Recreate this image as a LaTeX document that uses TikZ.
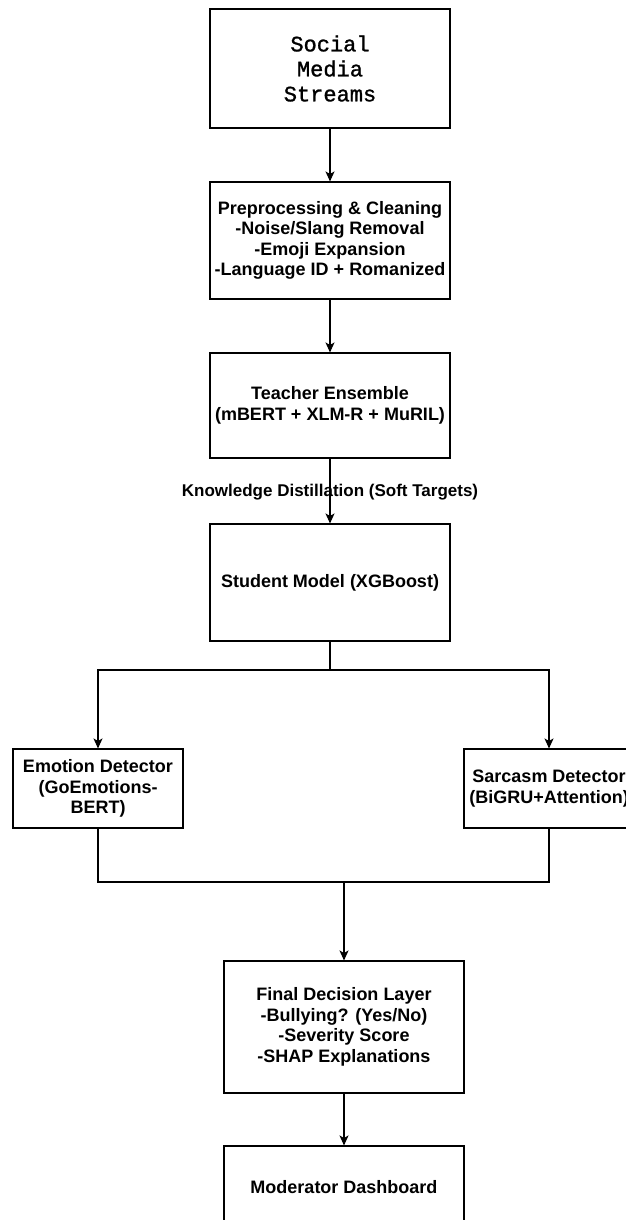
\documentclass[tikz,border=0pt]{standalone}
\usepackage{fontspec}
\setmainfont{Liberation Sans}
\newfontfamily\monofont[FakeBold=1.2]{Liberation Mono}
\usepackage{tikz}
\usetikzlibrary{arrows.meta}

\begin{document}
\begin{tikzpicture}[x=1pt,y=-1pt,
    box/.style={draw, line width=1.1pt, inner sep=0pt, align=center,
        font=\fontsize{18}{20.5}\selectfont\bfseries},
    flow/.style={line width=1.1pt, -{Stealth[length=10pt,width=9pt,inset=2.5pt]}},
    wire/.style={line width=1.1pt}]
    % page
    \useasboundingbox (0,0) rectangle (625,1220);
    % main column
    \node[box, minimum width=240pt, minimum height=119pt,
        font=\monofont\fontsize{22}{25}\selectfont] (src) at (330,68.5) {Social\\Media\\Streams};
    \node[box, minimum width=240pt, minimum height=117pt] (prep) at (330,240.5)
        {Preprocessing \& Cleaning\\-Noise/Slang Removal\\-Emoji Expansion\\-Language ID + Romanized};
    \node[box, minimum width=240pt, minimum height=105pt] (teacher) at (330,405.5)
        {Teacher Ensemble\\(mBERT + XLM-R + MuRIL)};
    \node[box, minimum width=240pt, minimum height=117pt] (student) at (330,582.5) {Student Model (XGBoost)};
    \node[font=\fontsize{17}{20}\selectfont\bfseries] (kd) at (330,492) {Knowledge Distillation (Soft Targets)};
    % two detectors
    \node[box, minimum width=170pt, minimum height=79pt] (emotion) at (98,788.5)
        {Emotion Detector\\(GoEmotions-\\BERT)};
    \node[box, minimum width=170pt, minimum height=79pt] (sarcasm) at (549,788.5)
        {Sarcasm Detector\\(BiGRU+Attention)};
    \node[box, minimum width=240pt, minimum height=132pt] (decision) at (344,1027)
        {Final Decision Layer\\-Bullying? (Yes/No)\\-Severity Score\\-SHAP Explanations};
    \node[box, minimum width=240pt, minimum height=82pt] (dashboard) at (344,1187) {Moderator Dashboard};
    \coordinate (split) at (330,670);
    \coordinate (merge) at (344,882);

    \draw[flow] (src) -- (prep);
    \draw[flow] (prep) -- (teacher);
    \draw[flow] (teacher) -- (student);
    \draw[wire] (student) -- (split);
    \draw[flow] (split) -| (emotion.north);
    \draw[flow] (split) -| (sarcasm.north);
    \draw[wire] (emotion.south) |- (merge);
    \draw[wire] (sarcasm.south) |- (merge);
    \draw[flow] (merge) -- (decision);
    \draw[flow] (decision) -- (dashboard);
\end{tikzpicture}
\end{document}
